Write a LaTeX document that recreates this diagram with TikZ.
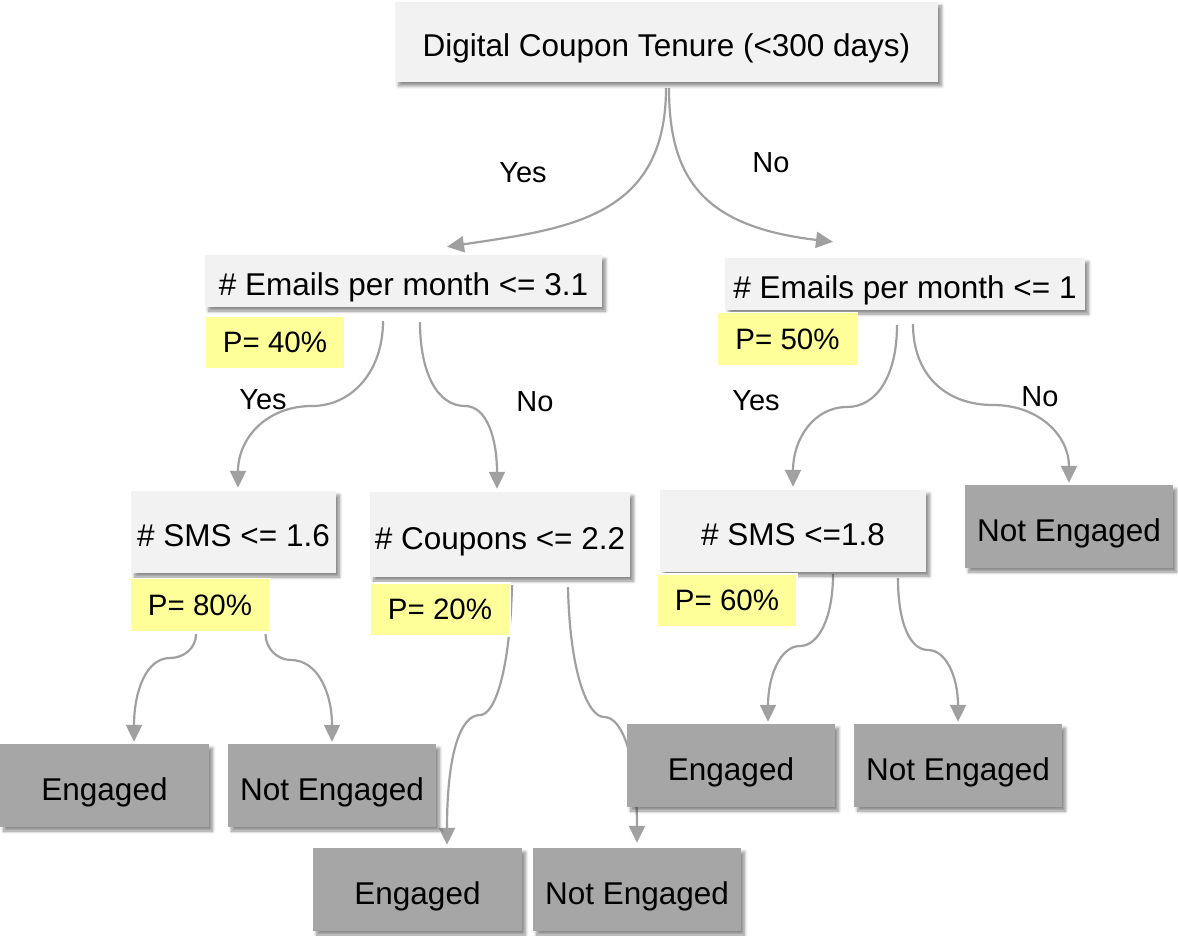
\documentclass[tikz,border=0pt]{standalone}
\usepackage{fontspec}
\setmainfont{Liberation Sans}
\usetikzlibrary{arrows.meta,calc,shadows.blur}
\definecolor{condfill}{HTML}{F2F2F2}
\definecolor{leaffill}{HTML}{A6A6A6}
\definecolor{probfill}{HTML}{FFFF99}
\definecolor{linkgray}{HTML}{A0A0A0}
\pgfdeclarelayer{links}
\pgfsetlayers{links,main}

\begin{document}
\begin{tikzpicture}[x=1pt,y=-1pt,
  boxshadow/.style={blur shadow={shadow xshift=3.5pt,shadow yshift=-4pt,
      shadow blur radius=3pt,shadow blur steps=8,shadow opacity=45}},
  cond/.style={fill=condfill,boxshadow,inner sep=0pt,text height=29.5pt,text depth=0pt,
      font=\fontsize{31.5}{36}\selectfont},
  leaf/.style={fill=leaffill,boxshadow,inner sep=0pt,minimum width=208pt,
      minimum height=83pt,text height=29.5pt,text depth=0pt,
      font=\fontsize{31.5}{36}\selectfont},
  prob/.style={fill=probfill,draw=white,line width=1.2pt,inner sep=0pt,
      minimum width=140pt,minimum height=53pt,font=\fontsize{29.5}{34}\selectfont},
  answer/.style={inner sep=0pt,font=\fontsize{29}{34}\selectfont},
  link/.style={draw=linkgray,line width=2.2pt,-{Triangle[length=17pt,width=16pt]}}
]
\useasboundingbox (0,0) rectangle (1178,936);

% decision nodes
\node[cond,minimum width=543pt,minimum height=80pt] (root) at (666.5,42) {Digital Coupon Tenure (<300 days)};
\node[cond,minimum width=397pt,minimum height=52pt] (e31) at (403.5,281) {\# Emails per month <= 3.1};
\node[cond,minimum width=360pt,minimum height=52pt] (e1) at (905,284) {\# Emails per month <= 1};
\node[cond,minimum width=205pt,minimum height=82pt] (sms16) at (233.5,532) {\# SMS <= 1.6};
\node[cond,minimum width=260pt,minimum height=85pt] (coup) at (500,534.5) {\# Coupons <= 2.2};
\node[cond,minimum width=266pt,minimum height=82pt] (sms18) at (793,531) {\# SMS <=1.8};

% probabilities
\node[prob] (p40) at (275,342.5) {P= 40\%};
\node[prob] (p50) at (787.5,339) {P= 50\%};
\node[prob] (p80) at (200,605) {P= 80\%};
\node[prob] (p20) at (440,609.5) {P= 20\%};
\node[prob] (p60) at (727,600.5) {P= 60\%};

% outcomes
\node[leaf] (ne0) at (1069,526.5) {Not Engaged};
\node[leaf,minimum width=209pt] (eng1) at (104.5,785.5) {Engaged};
\node[leaf] (ne2) at (332,785.5) {Not Engaged};
\node[leaf,minimum width=209pt] (eng3) at (417.5,889.5) {Engaged};
\node[leaf] (ne4) at (637,889.5) {Not Engaged};
\node[leaf] (eng5) at (731,765.5) {Engaged};
\node[leaf] (ne6) at (958,765.5) {Not Engaged};

% branch answers
\node[answer] (ya) at (523,173) {Yes};
\node[answer] (na) at (771,163) {No};
\node[answer] (yb) at (263,400) {Yes};
\node[answer] (nb) at (535,402) {No};
\node[answer] (yc) at (756,401) {Yes};
\node[answer] (nc) at (1040,397) {No};

% connectors, kept behind the boxes
\begin{pgfonlayer}{links}
\draw[link] ($(root.south)+(-0.5,6)$) .. controls +(0,130) and +(120,-18) .. ($(e31.north)+(43.5,-8)$);
\draw[link] ($(root.south)+(2.5,6)$) .. controls +(0,90) and +(-130,-15) .. ($(e1.north)+(-72,-16)$);

\draw[link] ($(e31.south)+(-20.5,14)$) .. controls +(0,50) and +(40,0) .. (312,406)
  .. controls +(-45,0) and +(0,-50) .. ($(sms16.north)+(4.5,-3)$);
\draw[link] ($(e31.south)+(16.5,15)$) .. controls +(0,50) and +(-28,0) .. (465,406)
  .. controls +(22,0) and +(0,-50) .. ($(coup.north)+(-3,-3)$);

\draw[link] ($(e1.south)+(-8,15)$) .. controls +(0,50) and +(30,0) .. (847,407)
  .. controls +(-33,0) and +(0,-48) .. ($(sms18.north)+(0,-3)$);
\draw[link] ($(e1.south)+(8,14)$) .. controls +(0,50) and +(-48,0) .. (993,405)
  .. controls +(46,0) and +(0,-47) .. ($(ne0.north)+(0,-2)$);

\draw[link] ($(p80.south)+(-4,2)$) .. controls +(0,14) and +(14,0) .. (170,658)
  .. controls +(-24,0) and +(0,-50) .. ($(eng1.north)+(29.5,-2)$);
\draw[link] ($(p80.south)+(65.5,2)$) .. controls +(0,14) and +(-14,0) .. (291,660)
  .. controls +(26,0) and +(0,-50) .. ($(ne2.north)+(0,-2)$);

\draw[link] ($(coup.south)+(12,8)$) .. controls +(-2,85) and +(15,0) .. (480,715)
  .. controls +(-20,0) and +(0,-90) .. ($(eng3.north)+(29.5,-3)$);
\draw[link] ($(coup.south)+(68,10)$) .. controls +(2,90) and +(-15,0) .. (604,717)
  .. controls +(20,0) and +(0,-80) .. ($(ne4.north)+(0,-5)$);

\draw[link] ($(sms18.south)+(40,2)$) .. controls +(0,45) and +(18,0) .. (800,646)
  .. controls +(-20,0) and +(0,-45) .. ($(eng5.north)+(37,-2)$);
\draw[link] ($(sms18.south)+(105,6)$) .. controls +(0,45) and +(-18,0) .. (928,650)
  .. controls +(18,0) and +(0,-45) .. ($(ne6.north)+(0,-2)$);
\end{pgfonlayer}
\end{tikzpicture}
\end{document}
